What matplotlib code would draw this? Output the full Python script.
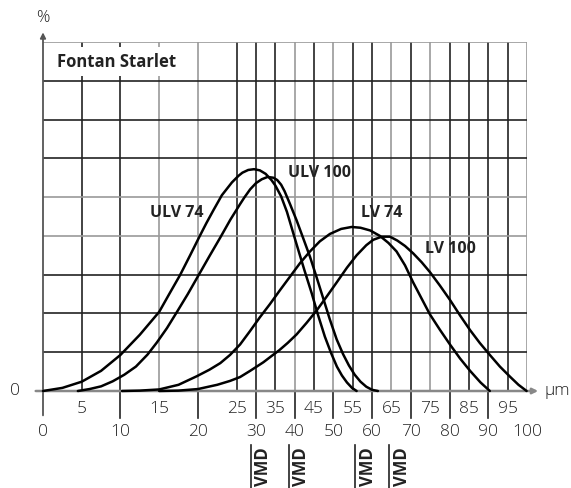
import numpy as np
import matplotlib
matplotlib.use('Agg')
import matplotlib.pyplot as plt
from matplotlib.patches import Rectangle

plt.rcParams['font.family'] = ['Open Sans', 'DejaVu Sans']

# curvas (x en um, y en divisiones de la rejilla)
ulv74_x = [0, 2.5, 5, 7.5, 10, 12.5, 15, 16.3, 17.7, 19, 20.2, 21.1, 22, 23.1, 24.4, 25.5, 26.5, 28, 29.5, 31, 32.5, 34, 35, 36.5, 38,
           40.5, 42.5, 44.4, 46, 47.8, 49.4, 50.9, 52.2, 53.5, 54.8, 56]
ulv74_y = [0, 0.08, 0.24, 0.52, 0.93, 1.45, 2.04, 2.5, 2.99, 3.5, 3.98, 4.33, 4.66, 5.05, 5.38, 5.55, 5.63, 5.7, 5.72, 5.69, 5.6, 5.44, 5.3, 5.02, 4.62,
           3.78, 3.12, 2.52, 1.97, 1.40, 0.98, 0.63, 0.4, 0.22, 0.08, 0]

ulv100_x = [4.5, 6, 7.5, 9, 10.5, 12, 13.5, 14.7, 16, 17.3, 18.7, 20.1, 21.5, 22.9, 24.2, 25.9, 27, 28.5, 30, 31.5, 33, 34.5, 35.5, 36.5,
            37.4, 38.8, 40.5, 42.2, 43.96, 45.7, 47.4, 49.1, 50.85, 52.5, 54, 55.5, 57, 58.5, 60, 61.5]
ulv100_y = [0, 0.05, 0.12, 0.25, 0.42, 0.63, 0.94, 1.25, 1.62, 2.04, 2.5, 2.99, 3.48, 3.96, 4.42, 4.82, 4.99, 5.2, 5.36, 5.46, 5.52, 5.5, 5.44, 5.32,
            5.15, 4.82, 4.4, 3.94, 3.46, 2.92, 2.38, 1.84, 1.33, 0.95, 0.66, 0.42, 0.24, 0.11, 0.03, 0]

lv74_x = [10.2, 12.5, 15, 17.5, 19.85, 21.5, 22.9, 24.15, 25.9, 28.5, 31, 33.6, 36.2, 38.8, 41.4, 43.96, 46.5, 49.1, 52, 54.7, 57,
          59.5, 62, 64.2, 66.3, 68.5, 70.6, 72.8, 74.9, 77.5, 80.1, 82.7, 85.3, 88, 90.4]
lv74_y = [0, 0.01, 0.04, 0.16, 0.38, 0.55, 0.72, 0.93, 1.2, 1.55, 1.9, 2.24, 2.6, 2.95, 3.3, 3.6, 3.86, 4.05, 4.18, 4.23, 4.21,
          4.14, 4.0, 3.82, 3.6, 3.24, 2.8, 2.38, 1.98, 1.58, 1.2, 0.84, 0.52, 0.22, 0]

lv100_x = [15, 17.5, 20, 22.5, 24.15, 25.9, 28.5, 31.9, 34, 36, 38.2, 40.5, 43.1, 45.7, 48.3, 50.85, 53.5, 56, 58.5, 60.3, 62.5,
           64.6, 66.5, 68.5, 70.6, 72.8, 74.9, 77.5, 80.1, 82.7, 85.3, 87.8, 90.4, 93, 95.6, 97.8, 99.9]
lv100_y = [0, 0.01, 0.05, 0.16, 0.26, 0.36, 0.52, 0.74, 0.9, 1.05, 1.24, 1.46, 1.76, 2.08, 2.44, 2.8, 3.18, 3.5, 3.76, 3.9, 3.98,
           3.98, 3.88, 3.74, 3.55, 3.32, 3.07, 2.72, 2.35, 1.95, 1.57, 1.24, 0.93, 0.63, 0.37, 0.16, 0]

curve_labels = ['ULV 74', 'ULV 100', 'LV 74', 'LV 100']
label_pos = [(17.3, 4.58), (46.5, 5.61), (62.5, 4.58), (80.1, 3.67)]

vmd_x = [28.7, 38.5, 55.6, 64.4]

lower_ticks = [0, 10, 20, 30, 40, 50, 60, 70, 80, 90, 100]
upper_ticks = [5, 15, 25, 35, 45, 55, 65, 75, 85, 95]
grid_x = [0, 5, 10, 15, 20, 25, 30, 35, 40, 45, 50, 55, 60, 65, 70, 75, 80, 85, 90, 95, 100]
grid_y = [1, 2, 3, 4, 5, 6, 7, 8, 9]


# escala: 0-25 a doble ancho
def fwd(x):
    x = np.asarray(x, dtype=float)
    return np.where(x <= 25, 2 * x, x + 25)


def inv(u):
    u = np.asarray(u, dtype=float)
    return np.where(u <= 50, u / 2, u - 25)


fig = plt.figure(figsize=(5.71, 4.88), dpi=100)
ax = fig.add_axes([43 / 571, 97 / 488, 484 / 571, 349 / 488])
ax.set_xscale('function', functions=(fwd, inv))
ax.set_xlim(0, 100)
ax.set_ylim(0, 9)
ax.axis('off')

dark = '#222222'
gray = '#9a9a9a'
xcol = [gray, dark, dark, gray, gray, dark, dark, dark, gray, dark, gray,
        dark, dark, gray, dark, gray, dark, dark, dark, dark, gray]
ycol = [dark, dark, dark, gray, gray, dark, dark, dark, gray]

for gx, c in zip(grid_x[1:], xcol[1:]):
    ax.plot([gx, gx], [0, 9], color=c, lw=1.2, zorder=1)
for gy, c in zip(grid_y, ycol):
    ax.plot([0, 100], [gy, gy], color=c, lw=1.2, zorder=1)

# caja del titulo
ax.add_patch(Rectangle((0.15, 8.12), 19.6, 0.75, facecolor='white', edgecolor='none', zorder=2))
ax.text(1.8, 8.48, 'Fontan Starlet', fontsize=12, fontweight='bold', color='#222222',
        ha='left', va='center', zorder=3)

# ejes con flechas
ax.annotate('', xy=(0, 9.32), xytext=(0, -0.7),
            arrowprops=dict(arrowstyle='-|>', color='#555555', lw=1.3, mutation_scale=8),
            annotation_clip=False, zorder=4)
ax.annotate('', xy=(103.6, 0), xytext=(-1.3, 0),
            arrowprops=dict(arrowstyle='-|>', color='#888888', lw=1.8, mutation_scale=8),
            annotation_clip=False, zorder=4)

for t in lower_ticks[1:-1]:
    ax.plot([t, t], [0, -0.7], color=dark, lw=1.2, clip_on=False, zorder=1)

for t in lower_ticks:
    ax.text(t, -1.06, str(t), fontsize=12.5, fontweight='light', ha='center', va='center', color='#222222')
for t in upper_ticks:
    ax.text(t, -0.46, str(t), fontsize=12.5, fontweight='light', ha='center', va='center', color='#222222')

ax.text(0, 9.63, '%', fontsize=12, fontweight='light', ha='center', va='center', color='#222222')
ax.text(-3.6, 0, '0', fontsize=12.5, fontweight='light', ha='center', va='center', color='#222222')
ax.text(104.6, 0, 'µm', fontsize=12.5, fontweight='light', ha='left', va='center', color='#222222')

for cx, cy in [(ulv74_x, ulv74_y), (ulv100_x, ulv100_y), (lv74_x, lv74_y), (lv100_x, lv100_y)]:
    ax.plot(cx, cy, color='black', lw=1.8, clip_on=False, zorder=5,
            solid_capstyle='round', solid_joinstyle='round')

for lab, (lx, ly) in zip(curve_labels, label_pos):
    ax.text(lx, ly, lab, fontsize=11.5, fontweight='bold', color='#222222',
            ha='center', va='center', zorder=6)

for v in vmd_x:
    ax.plot([v, v], [-1.39, -2.5], color='#222222', lw=1.2, clip_on=False)
    ax.text(v + 0.9, -1.95, 'VMD', fontsize=12, fontweight='bold', rotation=90,
            ha='left', va='center', color='#222222')

fig.savefig('out.png', dpi=100)
